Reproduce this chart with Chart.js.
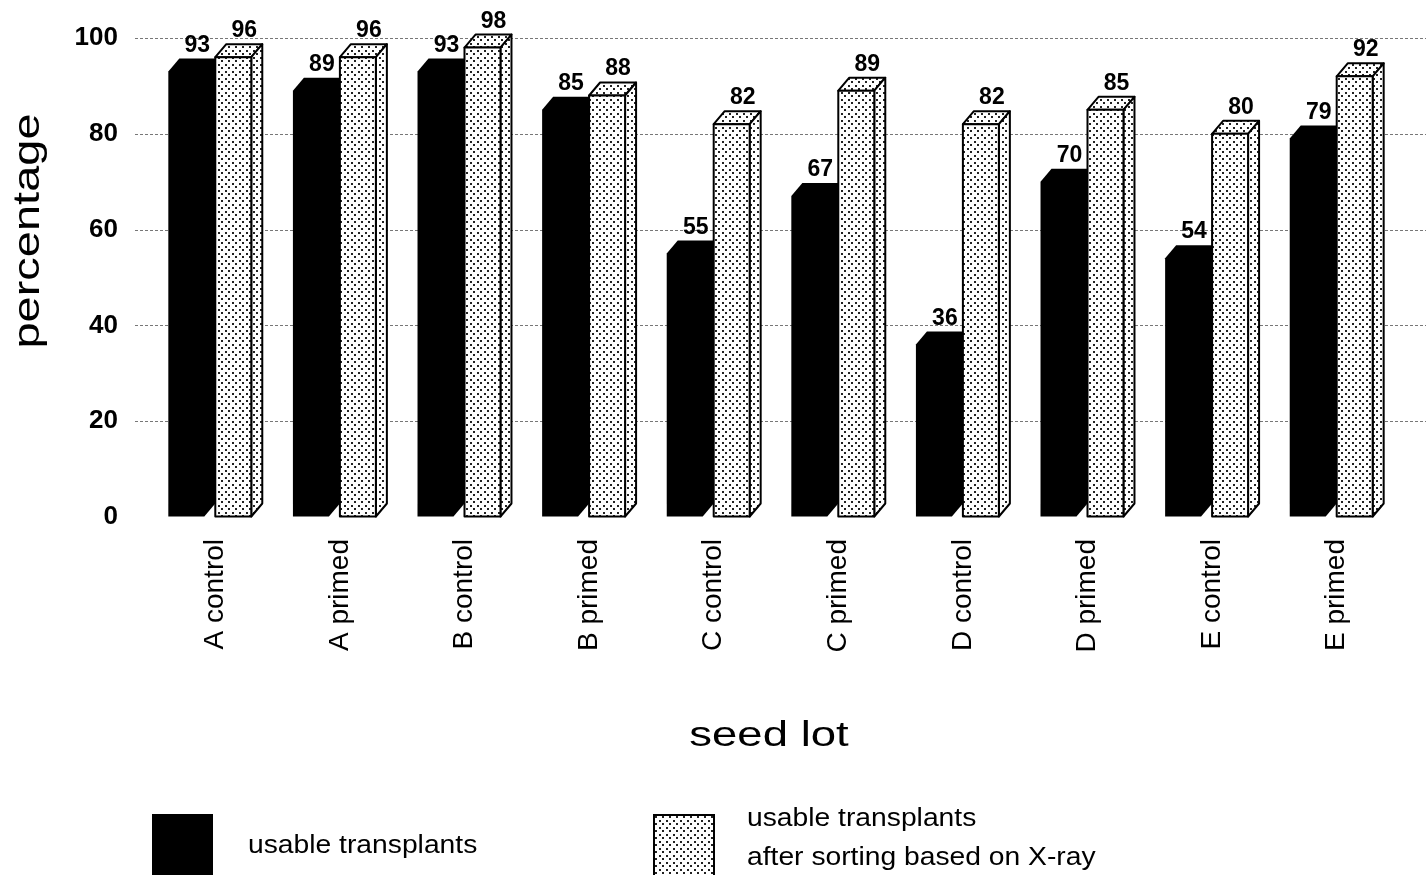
<!DOCTYPE html>
<html>
<head>
<meta charset="utf-8">
<title>Usable transplants by seed lot</title>
<script src="https://cdn.jsdelivr.net/npm/chart.js@4.4.1/dist/chart.umd.min.js"></script>
<style>
  html, body { margin: 0; padding: 0; background: #fff; }
  #wrap { position: relative; width: 1426px; height: 875px; }
</style>
</head>
<body>
<div id="wrap"><canvas id="chart"></canvas></div>
<script>
// ── data ──
const seedLots = ['A control', 'A primed', 'B control', 'B primed', 'C control', 'C primed', 'D control', 'D primed', 'E control', 'E primed'];
const usable = [93, 89, 93, 85, 55, 67, 36, 70, 54, 79];
const usableAfterXray = [96, 96, 98, 88, 82, 89, 82, 85, 80, 92];
const yTicks = [0, 20, 40, 60, 80, 100];
const seriesNames = ['usable transplants', 'usable transplants', 'after sorting based on X-ray'];

const FONT = '"Liberation Sans", Arial, Helvetica, sans-serif';
const DX = 11, DY = 13;   // fake 3D depth

// screen-tone dots, like the printed original
function makeDots(ctx) {
    const c = document.createElement('canvas');
    c.width = 7; c.height = 7;
    const g = c.getContext('2d');
    g.fillStyle = '#fff'; g.fillRect(0, 0, 7, 7);
    g.fillStyle = '#222';
    g.fillRect(1, 1, 2, 2);
    g.fillRect(4, 4, 2, 2);
    return ctx.createPattern(c, 'repeat');
}

function poly(ctx, pts) {
    ctx.beginPath();
    ctx.moveTo(pts[0][0], pts[0][1]);
    for (let i = 1; i < pts.length; i++) ctx.lineTo(pts[i][0], pts[i][1]);
    ctx.closePath();
}

// text stretched along its own direction (the original type is wide)
function wideText(ctx, text, x, y, sx, rot) {
    ctx.save();
    ctx.translate(x, y);
    if (rot) ctx.rotate(rot);
    ctx.scale(sx, 1);
    ctx.fillText(text, 0, 0);
    ctx.restore();
}

// dotted grid lines running past the plot to the page edge
const gridPlugin = {
    id: 'grid',
    beforeDatasetsDraw(chart) {
        const { ctx, chartArea, scales: { y } } = chart;
        ctx.save();
        ctx.strokeStyle = '#777';
        ctx.lineWidth = 1;
        ctx.setLineDash([3, 2]);
        y.ticks.forEach(t => {
            if (t.value === 0) return;
            const py = Math.round(y.getPixelForValue(t.value)) + 0.5;
            ctx.beginPath();
            ctx.moveTo(chartArea.left - 18, py);
            ctx.lineTo(chart.width, py);
            ctx.stroke();
        });
        ctx.restore();
    }
};

// 3D boxes + value labels, from the bar elements' own geometry
const boxPlugin = {
    id: 'boxes',
    afterDatasetsDraw(chart) {
        const ctx = chart.ctx;
        const dots = makeDots(ctx);
        const m0 = chart.getDatasetMeta(0), m1 = chart.getDatasetMeta(1);
        ctx.save();
        seedLots.forEach((_, i) => {
            [m0, m1].forEach((meta, d) => {
                const el = meta.data[i];
                const w = el.width;
                const l = el.x - w / 2 - DX / 2;
                const t = el.y, b = el.base;
                if (d === 0) {
                    ctx.fillStyle = '#000';
                    poly(ctx, [[l, b], [l, t], [l + DX, t - DY], [l + w + DX, t - DY], [l + w + DX, b - DY], [l + w, b]]);
                    ctx.fill();
                } else {
                    ctx.fillStyle = dots;
                    ctx.strokeStyle = '#000';
                    ctx.lineWidth = 2;
                    ctx.lineJoin = 'round';
                    poly(ctx, [[l, t], [l + DX, t - DY], [l + w + DX, t - DY], [l + w, t]]);
                    ctx.fill(); ctx.stroke();
                    poly(ctx, [[l + w, t], [l + w + DX, t - DY], [l + w + DX, b - DY], [l + w, b]]);
                    ctx.fill(); ctx.stroke();
                    poly(ctx, [[l, t], [l + w, t], [l + w, b], [l, b]]);
                    ctx.fill(); ctx.stroke();
                }
                const v = chart.data.datasets[d].data[i];
                ctx.fillStyle = '#000';
                ctx.font = 'bold 23px ' + FONT;
                ctx.textAlign = 'center';
                ctx.textBaseline = 'alphabetic';
                ctx.fillText(String(v), l + DX + w / 2, t - DY - 7);
            });
        });
        ctx.restore();
    }
};

// axis titles and the two-box legend
const textPlugin = {
    id: 'texts',
    afterDraw(chart) {
        const ctx = chart.ctx;
        const dots = makeDots(ctx);
        ctx.save();
        ctx.fillStyle = '#000';
        ctx.textBaseline = 'middle';
        ctx.textAlign = 'center';
        ctx.font = '37px ' + FONT;
        wideText(ctx, 'percentage', 29, 231, 1.27, -Math.PI / 2);
        ctx.textBaseline = 'alphabetic';
        ctx.font = '35px ' + FONT;
        wideText(ctx, 'seed lot', 769, 746, 1.3);

        // legend
        ctx.fillStyle = '#000';
        ctx.fillRect(152, 814, 61, 62);
        ctx.fillStyle = dots;
        ctx.fillRect(654, 815, 60, 62);
        ctx.strokeStyle = '#000';
        ctx.lineWidth = 2;
        ctx.strokeRect(654, 815, 60, 62);

        ctx.fillStyle = '#000';
        ctx.textAlign = 'left';
        ctx.font = '25px ' + FONT;
        wideText(ctx, seriesNames[0], 248, 853, 1.13);
        wideText(ctx, seriesNames[1], 747, 826, 1.13);
        wideText(ctx, seriesNames[2], 747, 865, 1.13);
        ctx.restore();
    }
};

new Chart(document.getElementById('chart'), {
    type: 'bar',
    data: {
        labels: seedLots,
        datasets: [
            { label: seriesNames[0], data: usable, backgroundColor: 'rgba(0,0,0,0)', borderWidth: 0, categoryPercentage: 0.754, barPercentage: 0.766 },
            { label: seriesNames[1] + ' ' + seriesNames[2], data: usableAfterXray, backgroundColor: 'rgba(0,0,0,0)', borderWidth: 0, categoryPercentage: 0.754, barPercentage: 0.766 }
        ]
    },
    options: {
        responsive: true,
        maintainAspectRatio: false,
        animation: false,
        devicePixelRatio: 1,
        layout: { padding: { top: 38, right: 27, left: 0, bottom: 0 } },
        plugins: { legend: { display: false }, tooltip: { enabled: false } },
        scales: {
            x: {
                grid: { display: false, drawTicks: false },
                border: { display: false },
                ticks: { minRotation: 90, maxRotation: 90, autoSkip: false, padding: 22, color: '#000', font: { family: FONT, size: 28 } },
                afterFit: s => { s.height = 358; }
            },
            y: {
                min: 0, max: 100,
                afterBuildTicks: s => { s.ticks = yTicks.map(v => ({ value: v })); },
                // invisible tick marks push the labels left without padding the top
                grid: { display: true, drawOnChartArea: false, drawTicks: true, tickLength: 32, tickColor: 'rgba(0,0,0,0)' },
                border: { display: false },
                ticks: { padding: 3, color: '#000', font: { family: FONT, size: 26, weight: 'bold' } },
                afterFit: s => { s.width = 153; }
            }
        }
    },
    plugins: [gridPlugin, boxPlugin, textPlugin]
});
</script>
</body>
</html>
